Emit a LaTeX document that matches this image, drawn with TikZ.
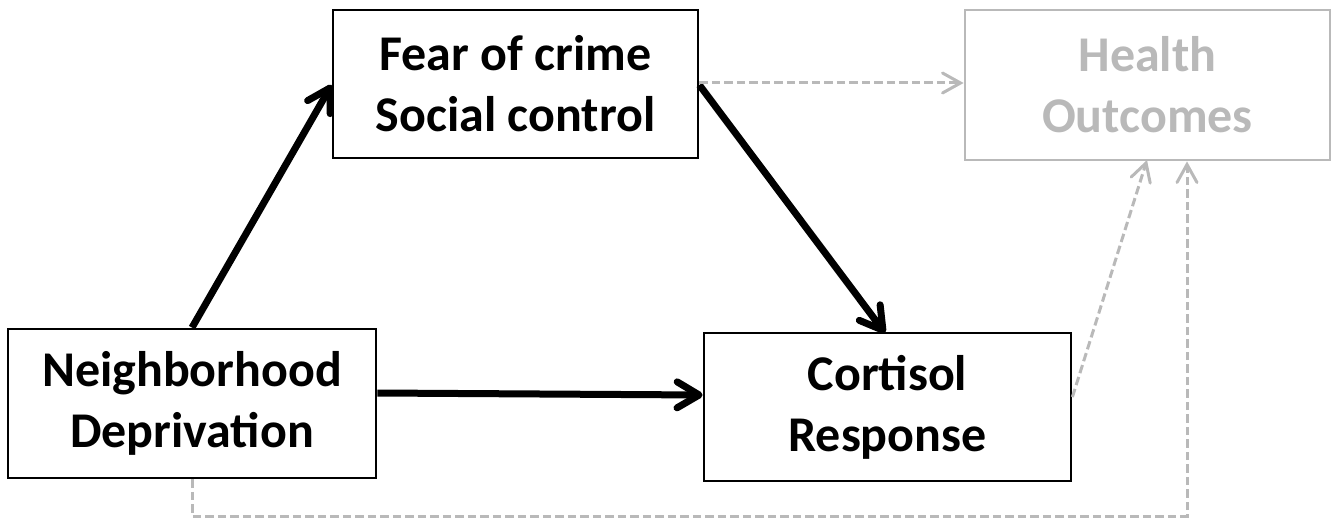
\documentclass[tikz,border=0pt]{standalone}
\usepackage{fontspec}
\setmainfont{Carlito}
\usetikzlibrary{arrows.meta}
\begin{document}
\begin{tikzpicture}[x=1pt,y=-1pt,
  box/.style={draw=black,line width=2.8pt,inner sep=0pt,font=\fontsize{50}{61}\selectfont\bfseries,align=center},
  gbox/.style={draw=gray!55,line width=2.8pt,inner sep=0pt,text=gray!55,font=\fontsize{50}{61}\selectfont\bfseries,align=center},
  main/.style={line width=7pt,-{Straight Barb[length=22pt,width=26pt,line cap=round,line join=round]}},
  dsh/.style={draw=gray!55,line width=3pt,dash pattern=on 8.5pt off 4pt,-{Straight Barb[length=18pt,width=20pt,line width=3pt,line cap=round]}}]
\useasboundingbox (0,0) rectangle (1342,519);
\node[box,minimum width=365pt,minimum height=148pt] (fear) at (515.5,84) {Fear of crime\\Social control};
\node[gbox,minimum width=365pt,minimum height=150pt] (health) at (1147.5,85) {Health\\Outcomes};
\node[box,minimum width=368pt,minimum height=149pt] (nd) at (192,403.5) {Neighborhood\\Deprivation};
\node[box,minimum width=367pt,minimum height=148pt] (cort) at (887.5,407) {Cortisol\\Response};
\coordinate (c1) at (192,516);
\coordinate (c2) at (1187,516);
\draw[main] (nd.north) -- (fear.south west |- 0,85);
\draw[main] (fear.east |- 0,85) -- (885,333);
\draw[main] (nd.east |- 0,393) -- (cort.west |- 0,395);
\draw[dsh] (fear.east |- 0,83) -- (health.west |- 0,83);
\draw[dsh] (cort.east |- 0,397) -- (1147,160);
\draw[dsh] (nd.south) -- (c1) -- (c2) -- (health.south -| c2);
\end{tikzpicture}
\end{document}
